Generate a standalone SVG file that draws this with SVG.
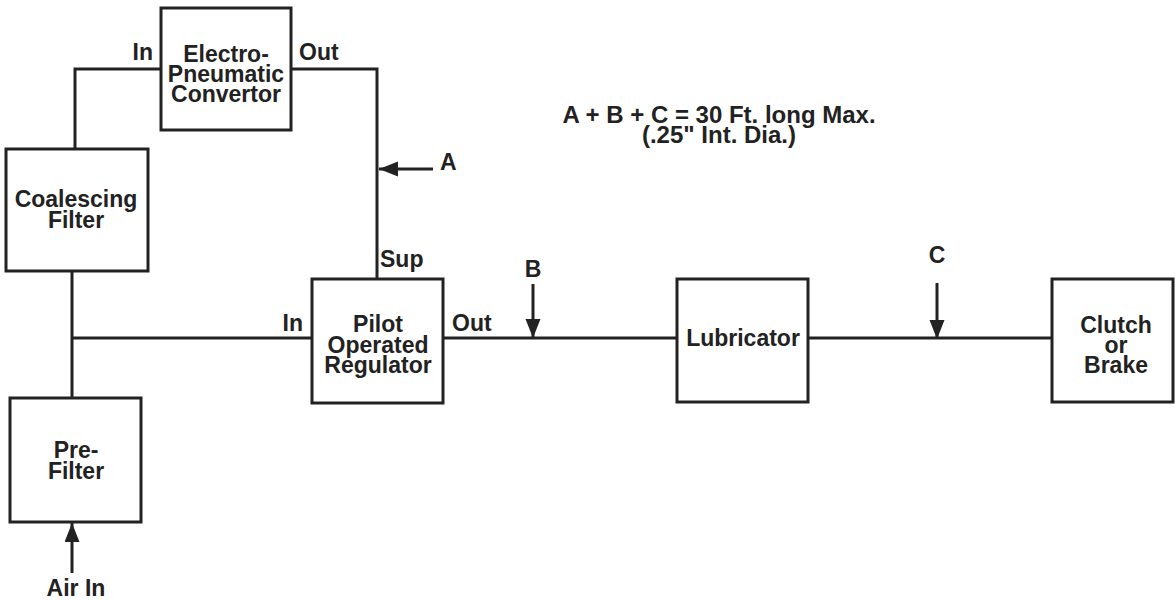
<svg xmlns="http://www.w3.org/2000/svg" width="1175" height="600" viewBox="0 0 1175 600">
<style>
.box{fill:#fff;stroke:#222;stroke-width:3}
.ln{fill:none;stroke:#222;stroke-width:3}
text{font-family:"Liberation Sans",Arial,Helvetica,sans-serif;font-weight:bold;font-size:23px;fill:#222}
.c{text-anchor:middle}
.e{text-anchor:end}
.t{font-size:24px}
</style>
<defs>
<marker id="ah" markerUnits="userSpaceOnUse" markerWidth="20" markerHeight="16" refX="19" refY="7.5" orient="auto">
<path d="M0,0 L19,7.5 L0,15 Z" fill="#222"/>
</marker>
</defs>
<rect width="1175" height="600" fill="#fff"/>
<g id="connectors">
<path class="ln" d="M75,149 V69 H161"/>
<path class="ln" d="M291,69 H377 V279"/>
<path class="ln" d="M72,271 V398"/>
<path class="ln" d="M72,338 H312"/>
<path class="ln" d="M443,338 H677"/>
<path class="ln" d="M808,338 H1052"/>
<line class="ln" x1="433" y1="169" x2="379" y2="169" marker-end="url(#ah)"/>
<line class="ln" x1="533" y1="284" x2="533" y2="338" marker-end="url(#ah)"/>
<line class="ln" x1="937" y1="283" x2="937" y2="339" marker-end="url(#ah)"/>
<line class="ln" x1="72" y1="573" x2="72" y2="523" marker-end="url(#ah)"/>
<text class="e" x="153" y="60">In</text>
<text x="299" y="60">Out</text>
<text x="380" y="267">Sup</text>
<text class="e" x="303" y="331">In</text>
<text x="452" y="331">Out</text>
<text x="440" y="170">A</text>
<text class="c" x="533" y="277">B</text>
<text class="c" x="937" y="263">C</text>
<text class="c" x="76" y="596">Air In</text>
</g>
<g id="note">
<text class="c t" x="719" y="123">A + B + C = 30 Ft. long Max.</text>
<text class="c t" x="719" y="143">(.25" Int. Dia.)</text>
</g>
<g id="electro-pneumatic-convertor">
<rect class="box" x="161" y="8" width="130" height="122"/>
<text class="c" x="226" y="62">Electro-</text>
<text class="c" x="226" y="82">Pneumatic</text>
<text class="c" x="226" y="102">Convertor</text>
</g>
<g id="coalescing-filter">
<rect class="box" x="6" y="149" width="142" height="122"/>
<text class="c" x="76" y="207">Coalescing</text>
<text class="c" x="76" y="228">Filter</text>
</g>
<g id="pre-filter">
<rect class="box" x="10" y="398" width="131" height="124"/>
<text class="c" x="76" y="458">Pre-</text>
<text class="c" x="76" y="479">Filter</text>
</g>
<g id="pilot-operated-regulator">
<rect class="box" x="312" y="279" width="131" height="124"/>
<text class="c" x="378" y="332">Pilot</text>
<text class="c" x="378" y="353">Operated</text>
<text class="c" x="378" y="373">Regulator</text>
</g>
<g id="lubricator">
<rect class="box" x="677" y="279" width="131" height="123"/>
<text class="c" x="743" y="346">Lubricator</text>
</g>
<g id="clutch-or-brake">
<rect class="box" x="1052" y="279" width="121" height="123"/>
<text class="c" x="1116" y="333">Clutch</text>
<text class="c" x="1116" y="353">or</text>
<text class="c" x="1116" y="373">Brake</text>
</g>
</svg>
